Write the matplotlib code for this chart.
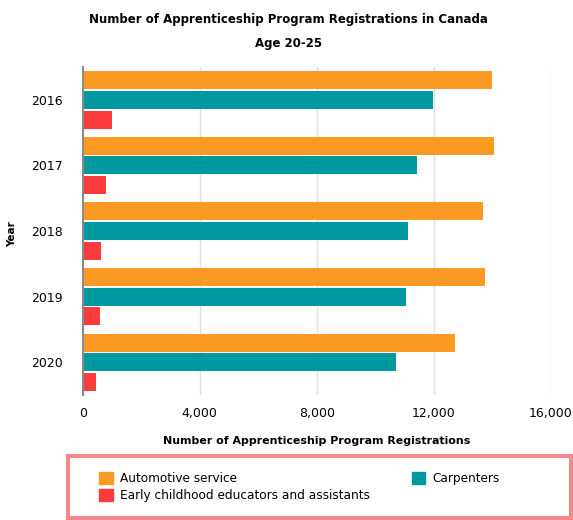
import numpy as np
import matplotlib
matplotlib.use('Agg')
import matplotlib.pyplot as plt
from matplotlib.patches import Rectangle, Patch

years = ['2016', '2017', '2018', '2019', '2020']
automotive = [14000, 14050, 13700, 13750, 12720]
carpenters = [11990, 11420, 11130, 11050, 10710]
early_childhood = [990, 790, 620, 600, 460]

ORANGE = '#fb9a22'
TEAL = '#00999f'
RED = '#fa3c3c'

plt.rcParams['font.family'] = ['DejaVu Sans']

fig = plt.figure(figsize=(5.73, 5.2), dpi=100)
ax = fig.add_axes([0.1443, 0.2404, 0.8167, 0.6306])

y = np.arange(len(years))
h = 0.275
off = 0.30
ax.barh(y - off, automotive, height=h, color=ORANGE, zorder=3)
ax.barh(y, carpenters, height=h, color=TEAL, zorder=3)
ax.barh(y + off, early_childhood, height=h, color=RED, zorder=3)

ax.set_ylim(4.5, -0.5)
ax.set_xlim(0, 16000)
ax.set_yticks(y)
ax.set_yticklabels(years, fontsize=9)
ax.set_xticks([0, 4000, 8000, 12000, 16000])
ax.set_xticklabels([f'{v:,}' for v in [0, 4000, 8000, 12000, 16000]], fontsize=9)
ax.tick_params(length=0, pad=9)
ax.tick_params(axis='y', pad=14)
ax.grid(True, axis='x', color='#e0e0e0', linewidth=1, zorder=0)

for side in ['top', 'right', 'bottom']:
    ax.spines[side].set_visible(False)
ax.spines['left'].set_color('#8a8a8a')
ax.spines['left'].set_linewidth(1.5)
ax.spines['left'].set_zorder(4)

ax.set_xlabel('Number of Apprenticeship Program Registrations', fontsize=7.9,
              fontweight='bold', labelpad=11)
fig.text(0.022, 0.55, 'Year', rotation=90, fontsize=7.5, fontweight='bold',
         ha='center', va='center')

fig.text(0.503, 0.963, 'Number of Apprenticeship Program Registrations in Canada',
         fontsize=8.5, fontweight='bold', ha='center', va='center')
fig.text(0.503, 0.917, 'Age 20-25', fontsize=8.5, fontweight='bold',
         ha='center', va='center')

# legend box
fig.patches.append(Rectangle((0.1187, 0.0045), 0.878, 0.119, transform=fig.transFigure,
                             fill=False, edgecolor='#f3898c', linewidth=3))
handles = [Patch(color=ORANGE, label='Automotive service'),
           Patch(color=RED, label='Early childhood educators and assistants'),
           Patch(color=TEAL, label='Carpenters')]
fig.legend(handles=handles, ncol=2, loc='upper left', bbox_to_anchor=(0.162, 0.104),
           frameon=False, fontsize=8.7, handlelength=1.15, handleheight=1.15,
           handletextpad=0.6, columnspacing=3.45, labelspacing=0.35, borderpad=0)

fig.savefig('out.png', dpi=100)
